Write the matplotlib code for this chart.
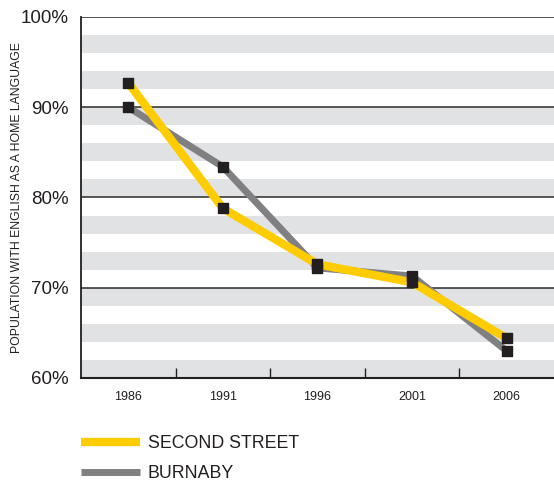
import matplotlib.pyplot as plt

plt.rcParams['font.family'] = ['Liberation Sans', 'DejaVu Sans']

years = ['1986', '1991', '1996', '2001', '2006']
second_street = [92.7, 78.8, 72.6, 70.6, 64.4]
burnaby = [90.0, 83.4, 72.2, 71.3, 63.0]
y_ticks = [60, 70, 80, 90, 100]

fig = plt.figure(figsize=(5.54, 4.8), dpi=100)
ax = fig.add_axes([0.1462, 0.2125, 0.8538, 0.7521])

x = range(len(years))

# striped background, 2% bands
for lo in range(60, 100, 4):
    ax.axhspan(lo, lo + 2, color='#e1e2e3', lw=0, zorder=0)
for v in y_ticks[1:]:
    ax.axhline(v, color='#2b2b2b', lw=1.1, zorder=1)

ax.plot(x, burnaby, color='#808083', lw=5, solid_capstyle='butt', zorder=3, label='BURNABY')
ax.plot(x, second_street, color='#ffcc00', lw=6, solid_capstyle='butt', zorder=4, label='SECOND STREET')
ax.scatter(x, burnaby, marker='s', s=45, color='#231f20', zorder=5)
ax.scatter(x, second_street, marker='s', s=45, color='#231f20', zorder=5)

ax.set_xlim(-0.5, 4.5)
ax.set_ylim(60, 100)
ax.set_yticks(y_ticks)
ax.set_yticklabels([f'{v}%' for v in y_ticks], fontsize=13.5, color='#231f20')
ax.tick_params(axis='y', length=0, pad=9)
ax.set_xticks(list(x))
ax.set_xticklabels(years, fontsize=9, color='#231f20')
ax.set_xticks([0.5, 1.5, 2.5, 3.5], minor=True)
ax.tick_params(axis='x', which='major', length=0, pad=9)
ax.tick_params(axis='x', which='minor', direction='in', length=7, width=1, color='#231f20')

for s in ['top', 'right']:
    ax.spines[s].set_visible(False)
ax.spines['left'].set_color('#231f20')
ax.spines['bottom'].set_color('#231f20')
ax.spines['left'].set_linewidth(1.3)
ax.spines['bottom'].set_linewidth(1.5)
ax.spines['left'].set_zorder(6)

fig.text(17 / 554, 0.589, 'POPULATION WITH ENGLISH AS A HOME LANGUAGE', rotation=90,
         fontsize=8.8, color='#231f20', ha='center', va='center')

handles, labels = ax.get_legend_handles_labels()
leg = fig.legend(handles[::-1], labels[::-1], loc='upper left', bbox_to_anchor=(0.146, 0.093),
                 frameon=False, fontsize=12.8, handlelength=3.3, handletextpad=0.45,
                 labelspacing=0.7, borderpad=0, borderaxespad=0)
for t in leg.get_texts():
    t.set_color('#231f20')

fig.savefig('out.png', dpi=100)
